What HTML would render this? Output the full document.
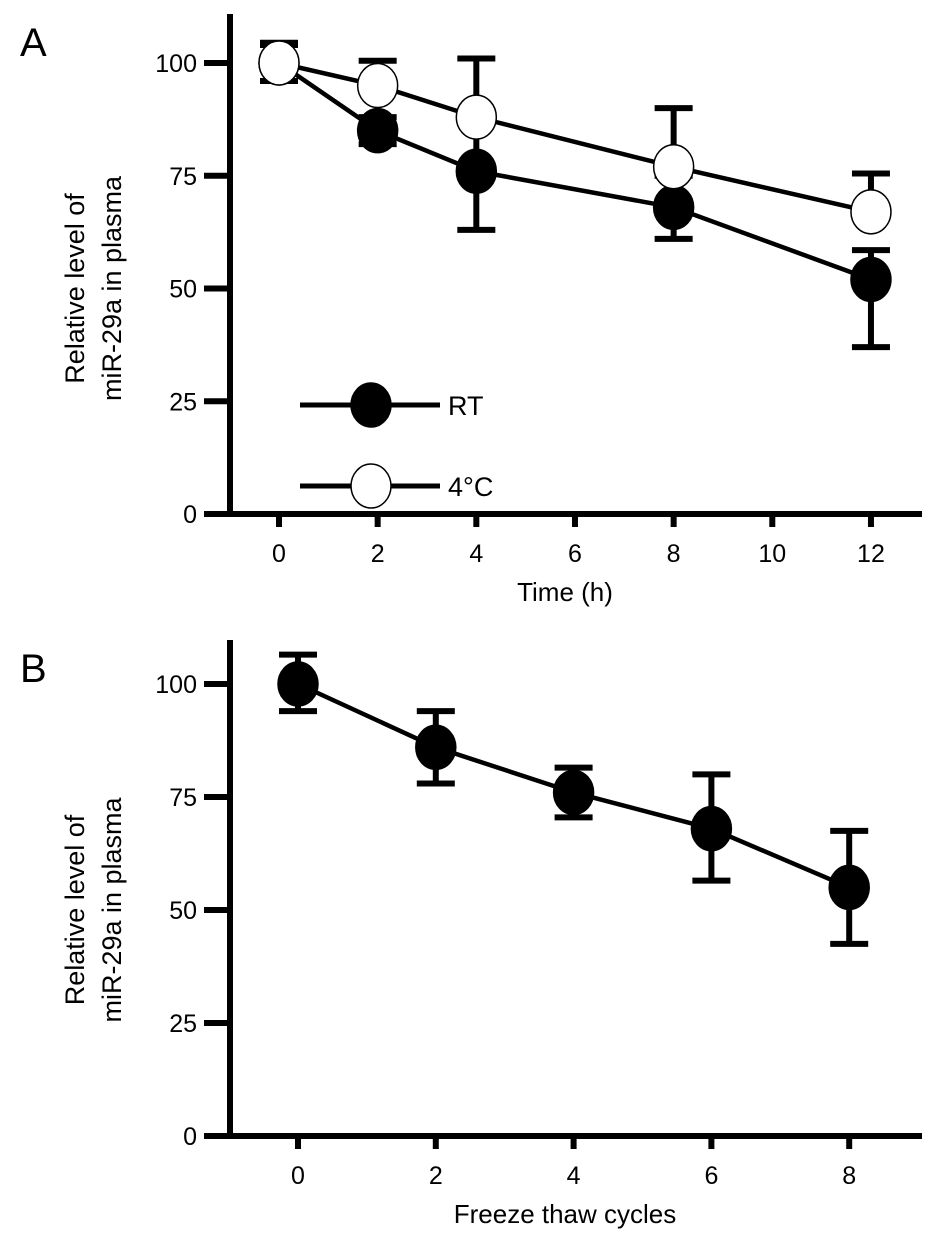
<!DOCTYPE html>
<html><head><meta charset="utf-8"><style>
body{margin:0;background:#fff}
svg{display:block;font-family:"Liberation Sans",Arial,sans-serif}
</style></head><body>
<svg id="c" width="945" height="1242" viewBox="0 0 945 1242"></svg>
<script>
const NS="http://www.w3.org/2000/svg";
const svg=document.getElementById('c');
// Panel A data
const timeA=[0,2,4,8,12];
const rtVals=[100,85,76,68,52];
const rtUp=[4,3,13,7,6.5];
const rtDown=[4,3,13,7,15];
const coldVals=[100,95,88,77,67];
const coldUp=[4.5,5.5,13,13,8.5];
const coldDown=[4,0,0,0,0];
const xTicksA=[0,2,4,6,8,10,12];
const yTicks=[0,25,50,75,100];
// Panel B data
const cyclesB=[0,2,4,6,8];
const ftVals=[100,86,76,68,55];
const ftUp=[6.5,8,5.5,12,12.5];
const ftDown=[6,8,5.5,11.5,12.5];
const xTicksB=[0,2,4,6,8];

function el(tag,attrs,parent){const e=document.createElementNS(NS,tag);for(const k in attrs)e.setAttribute(k,attrs[k]);(parent||svg).appendChild(e);return e;}
function txt(s,attrs,parent){const e=el('text',attrs,parent);e.textContent=s;return e;}

function panel(cfg){
  const g=el('g',{});
  
  
  const X=v=>cfg.x0+(v-cfg.xmin)*cfg.xs;
  const Y=v=>cfg.y0-v*cfg.ys;
  const ya=el('line',{x1:230,y1:cfg.ytop,x2:230,y2:cfg.y0+3,stroke:'#000','stroke-width':6},g);
  
  const xa=el('line',{x1:204,y1:cfg.y0,x2:922,y2:cfg.y0,stroke:'#000','stroke-width':6},g);
  
  cfg.yticks.forEach(t=>{
    el('line',{x1:204,y1:Y(t),x2:230,y2:Y(t),stroke:'#000','stroke-width':6},g);
    const l=txt(String(t),{x:197,y:Y(t)+9,'font-size':25,'text-anchor':'end'},g);
    
  });
  cfg.xticks.forEach(t=>{
    el('line',{x1:X(t),y1:cfg.y0,x2:X(t),y2:cfg.y0+13,stroke:'#000','stroke-width':6},g);
    const l=txt(String(t),{x:X(t),y:cfg.y0+48,'font-size':25,'text-anchor':'middle'},g);
    
  });
  const xt=txt(cfg.xtitle,{x:cfg.xtitleX,y:cfg.y0+87,'font-size':26,'text-anchor':'middle'},g);
  
  const cy=Y(50);
  const yt=el('text',{transform:`translate(0,${cy}) rotate(-90)`,'font-size':27,'text-anchor':'middle'},g);
  
  const t1=el('tspan',{x:0,y:84},yt);t1.textContent='Relative level of';
  const t2=el('tspan',{x:0,y:121},yt);t2.textContent='miR-29a in plasma';
  const pl=txt(cfg.letter,{x:20,y:cfg.letterY,'font-size':40},g);
  
  cfg.series.forEach(s=>{
    const sg=el('g',{},g);
    
    el('polyline',{points:s.xs.map((x,i)=>X(x)+','+Y(s.v[i])).join(' '),fill:'none',stroke:'#000','stroke-width':4.5},sg);
    s.xs.forEach((x,i)=>{
      const px=X(x);
      if(s.up[i]>0){el('line',{x1:px,y1:Y(s.v[i]),x2:px,y2:Y(s.v[i]+s.up[i]),stroke:'#000','stroke-width':6},sg);
        el('line',{x1:px-19,y1:Y(s.v[i]+s.up[i]),x2:px+19,y2:Y(s.v[i]+s.up[i]),stroke:'#000','stroke-width':6},sg);}
      if(s.down[i]>0){el('line',{x1:px,y1:Y(s.v[i]),x2:px,y2:Y(s.v[i]-s.down[i]),stroke:'#000','stroke-width':6},sg);
        el('line',{x1:px-19,y1:Y(s.v[i]-s.down[i]),x2:px+19,y2:Y(s.v[i]-s.down[i]),stroke:'#000','stroke-width':6},sg);}
    });
    s.xs.forEach((x,i)=>{
      const c=el('ellipse',{cx:X(x),cy:Y(s.v[i]),rx:20,ry:22,fill:s.fill,stroke:'#000','stroke-width':1.5},sg);
      
    });
  });
  return g;
}
panel({name:'panel-a',letter:'A',letterY:56,x0:279,xmin:0,xs:49.33,y0:514,ys:4.51,ytop:14,
  yticks:yTicks,xticks:xTicksA,xtitle:'Time (h)',xtitleX:565,
  series:[{name:'series-rt',xs:timeA,v:rtVals,up:rtUp,down:rtDown,fill:'#000'},
          {name:'series-4c',xs:timeA,v:coldVals,up:coldUp,down:coldDown,fill:'#fff'}]});
panel({name:'panel-b',letter:'B',letterY:682,x0:298,xmin:0,xs:68.9,y0:1136,ys:4.52,ytop:640,
  yticks:yTicks,xticks:xTicksB,xtitle:'Freeze thaw cycles',xtitleX:565,
  series:[{name:'series-freeze-thaw',xs:cyclesB,v:ftVals,up:ftUp,down:ftDown,fill:'#000'}]});
const lg=el('g',{});

[[405,'#000','RT'],[486,'#fff','4°C']].forEach(([y,f,l])=>{
  const e=el('g',{},lg);
  
  el('line',{x1:300,y1:y,x2:440,y2:y,stroke:'#000','stroke-width':5},e);
  el('ellipse',{cx:371,cy:y,rx:20,ry:22,fill:f,stroke:'#000','stroke-width':1.5},e);
  txt(l,{x:448,y:y+10,'font-size':27},e);
});
</script>
</body></html>
